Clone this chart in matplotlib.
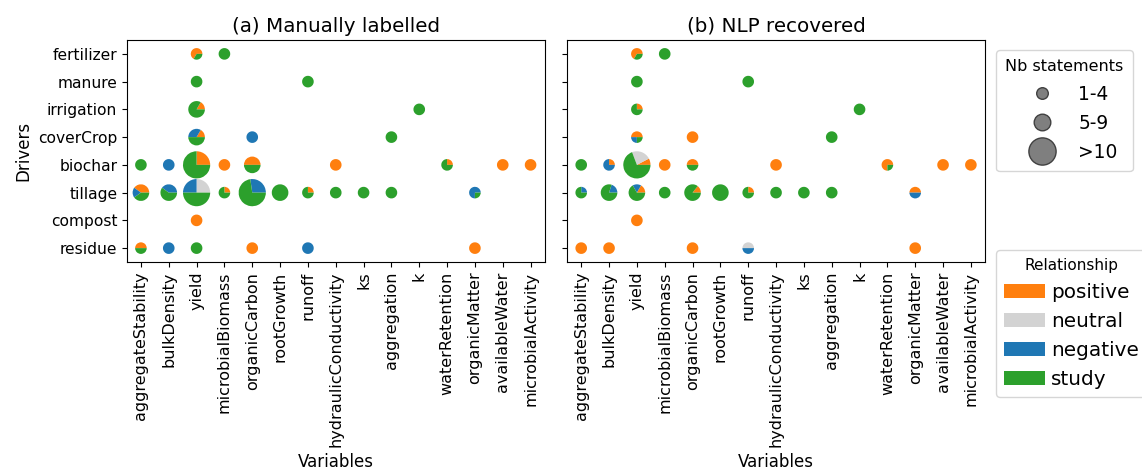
import matplotlib
matplotlib.use("Agg")
import matplotlib.pyplot as plt
from matplotlib.patches import Wedge, Patch
from matplotlib.lines import Line2D
from matplotlib.transforms import Affine2D, ScaledTranslation

variables = ["aggregateStability", "bulkDensity", "yield", "microbialBiomass",
             "organicCarbon", "rootGrowth", "runoff", "hydraulicConductivity",
             "ks", "aggregation", "k", "waterRetention", "organicMatter",
             "availableWater", "microbialActivity"]
drivers = ["fertilizer", "manure", "irrigation", "coverCrop", "biochar",
           "tillage", "compost", "residue"]
relationships = ["positive", "neutral", "negative", "study"]
rel_colors = ["#ff7f0e", "#d3d3d3", "#1f77b4", "#2ca02c"]
size_labels = ["1-4", "5-9", ">10"]

# (driver, variable, positive, neutral, negative, study)
counts_manual = [
    ("fertilizer", "yield", 2, 0, 0, 1),
    ("fertilizer", "microbialBiomass", 0, 0, 0, 1),
    ("manure", "yield", 0, 0, 0, 1),
    ("manure", "runoff", 0, 0, 0, 1),
    ("irrigation", "yield", 1, 0, 0, 5),
    ("irrigation", "k", 0, 0, 0, 1),
    ("coverCrop", "yield", 1, 0, 2, 3),
    ("coverCrop", "organicCarbon", 0, 0, 1, 0),
    ("coverCrop", "aggregation", 0, 0, 0, 1),
    ("biochar", "aggregateStability", 0, 0, 0, 1),
    ("biochar", "bulkDensity", 0, 0, 1, 0),
    ("biochar", "yield", 3, 0, 0, 9),
    ("biochar", "microbialBiomass", 1, 0, 0, 0),
    ("biochar", "organicCarbon", 3, 0, 0, 3),
    ("biochar", "hydraulicConductivity", 1, 0, 0, 0),
    ("biochar", "waterRetention", 1, 0, 0, 3),
    ("biochar", "availableWater", 1, 0, 0, 0),
    ("biochar", "microbialActivity", 1, 0, 0, 0),
    ("tillage", "aggregateStability", 2, 0, 1, 2),
    ("tillage", "bulkDensity", 0, 0, 2, 3),
    ("tillage", "yield", 0, 3, 3, 6),
    ("tillage", "microbialBiomass", 1, 0, 0, 3),
    ("tillage", "organicCarbon", 0, 0, 3, 8),
    ("tillage", "rootGrowth", 0, 0, 0, 5),
    ("tillage", "runoff", 1, 0, 0, 3),
    ("tillage", "hydraulicConductivity", 0, 0, 0, 1),
    ("tillage", "ks", 0, 0, 0, 1),
    ("tillage", "aggregation", 0, 0, 0, 1),
    ("tillage", "organicMatter", 0, 0, 3, 1),
    ("compost", "yield", 1, 0, 0, 0),
    ("residue", "aggregateStability", 1, 0, 0, 1),
    ("residue", "bulkDensity", 0, 0, 1, 0),
    ("residue", "yield", 0, 0, 0, 1),
    ("residue", "organicCarbon", 1, 0, 0, 0),
    ("residue", "runoff", 0, 0, 1, 0),
    ("residue", "organicMatter", 1, 0, 0, 0),
]

counts_nlp = [
    ("fertilizer", "yield", 2, 0, 0, 1),
    ("fertilizer", "microbialBiomass", 0, 0, 0, 1),
    ("manure", "yield", 0, 0, 0, 1),
    ("manure", "runoff", 0, 0, 0, 1),
    ("irrigation", "yield", 1, 0, 0, 3),
    ("irrigation", "k", 0, 0, 0, 1),
    ("coverCrop", "yield", 2, 0, 1, 1),
    ("coverCrop", "organicCarbon", 1, 0, 0, 0),
    ("coverCrop", "aggregation", 0, 0, 0, 1),
    ("biochar", "aggregateStability", 0, 0, 0, 1),
    ("biochar", "bulkDensity", 1, 0, 3, 0),
    ("biochar", "yield", 1, 3, 0, 9),
    ("biochar", "microbialBiomass", 1, 0, 0, 0),
    ("biochar", "organicCarbon", 1, 0, 0, 1),
    ("biochar", "hydraulicConductivity", 1, 0, 0, 0),
    ("biochar", "waterRetention", 3, 0, 0, 1),
    ("biochar", "availableWater", 1, 0, 0, 0),
    ("biochar", "microbialActivity", 1, 0, 0, 0),
    ("tillage", "aggregateStability", 0, 0, 1, 3),
    ("tillage", "bulkDensity", 0, 0, 1, 4),
    ("tillage", "yield", 1, 0, 1, 4),
    ("tillage", "microbialBiomass", 0, 0, 0, 1),
    ("tillage", "organicCarbon", 1, 0, 0, 6),
    ("tillage", "rootGrowth", 0, 0, 0, 5),
    ("tillage", "runoff", 1, 0, 0, 3),
    ("tillage", "hydraulicConductivity", 0, 0, 0, 1),
    ("tillage", "ks", 0, 0, 0, 1),
    ("tillage", "aggregation", 0, 0, 0, 1),
    ("tillage", "organicMatter", 1, 0, 1, 0),
    ("compost", "yield", 1, 0, 0, 0),
    ("residue", "aggregateStability", 1, 0, 0, 0),
    ("residue", "bulkDensity", 1, 0, 0, 0),
    ("residue", "organicCarbon", 1, 0, 0, 0),
    ("residue", "runoff", 0, 1, 1, 0),
    ("residue", "organicMatter", 1, 0, 0, 0),
]

DPI = 100
fig = plt.figure(figsize=(11.42, 4.72), dpi=DPI)
W, H = 1142, 472
ax_a = fig.add_axes([127 / W, 1 - 262 / H, 417.5 / W, 222 / H])
ax_b = fig.add_axes([567.3 / W, 1 - 262 / H, 417.5 / W, 222 / H])

# radius in pixels by size class
radius_px = [5.8, 8.3, 13.6]


def size_class(n):
    if n <= 4:
        return 0
    if n <= 9:
        return 1
    return 2


def draw_panel(ax, data, title, show_ylabels):
    for drv, var, *vals in data:
        x = variables.index(var)
        y = drivers.index(drv)
        total = sum(vals)
        r = radius_px[size_class(total)] / DPI  # inches
        trans = (Affine2D().scale(r) + fig.dpi_scale_trans
                 + ScaledTranslation(x, y, ax.transData))
        start = 0.0
        for v, c in zip(vals, rel_colors):
            if v == 0:
                continue
            ang = 360.0 * v / total
            ax.add_patch(Wedge((0, 0), 1, start, start + ang, transform=trans,
                               facecolor=c, edgecolor="none", linewidth=0))
            start += ang
    ax.set_xlim(-0.5, len(variables) - 0.5)
    ax.set_ylim(len(drivers) - 0.5, -0.5)
    ax.set_xticks(range(len(variables)))
    ax.set_xticklabels(variables, rotation=90, fontsize=11.5)
    ax.set_yticks(range(len(drivers)))
    if show_ylabels:
        ax.set_yticklabels(drivers, fontsize=11.2)
        ax.set_ylabel("Drivers", fontsize=12)
    else:
        ax.set_yticklabels([])
    ax.set_xlabel("Variables", fontsize=12)
    ax.set_title(title, fontsize=14.3)


draw_panel(ax_a, counts_manual, "(a) Manually labelled", True)
draw_panel(ax_b, counts_nlp, "(b) NLP recovered", False)

size_handles = [Line2D([], [], linestyle="none", marker="o",
                       markersize=2 * r * 72 / DPI, markerfacecolor="#7f7f7f",
                       markeredgecolor="#404040", markeredgewidth=1.0)
                for r in radius_px]
leg1 = fig.legend(size_handles, size_labels, title="Nb statements",
                  loc="upper left", bbox_to_anchor=(996 / W, 1 - 50 / H),
                  borderaxespad=0, fontsize=13.4, title_fontsize=11.5,
                  handlelength=3.3, handletextpad=0.3,
                  borderpad=0.5, labelspacing=0.55)

rel_handles = [Patch(facecolor=c, edgecolor="none") for c in rel_colors]
leg2 = fig.legend(rel_handles, relationships, title="Relationship",
                  loc="upper left", bbox_to_anchor=(996 / W, 1 - 250 / H),
                  borderaxespad=0, fontsize=14.4, title_fontsize=11,
                  handlelength=2.05, handleheight=0.7, handletextpad=0.3,
                  borderpad=0.4, labelspacing=0.5)

fig.savefig("out.png", dpi=DPI)
